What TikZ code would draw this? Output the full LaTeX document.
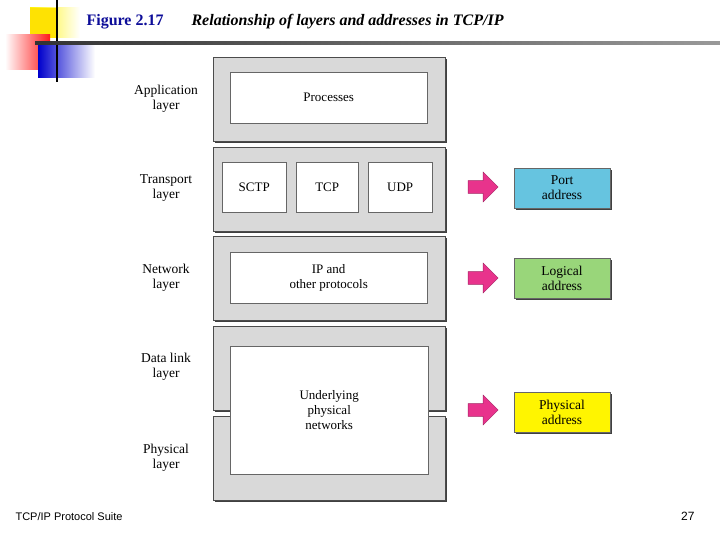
\documentclass[tikz,border=0pt]{standalone}
\usepackage{fontspec}
\setmainfont{Liberation Serif}
\newfontfamily\sansf{Liberation Sans}
\usetikzlibrary{shapes.arrows}
\definecolor{bandgray}{rgb}{0.85,0.85,0.85}
\definecolor{portcol}{rgb}{0.40,0.77,0.88}
\definecolor{logcol}{rgb}{0.60,0.84,0.48}
\definecolor{physcol}{rgb}{1.0,0.96,0.0}
\definecolor{pinkcol}{rgb}{0.91,0.20,0.55}
\definecolor{titleblue}{rgb}{0.05,0.05,0.60}
\begin{document}
\begin{tikzpicture}[x=1pt,y=-1pt,
  band/.style={draw=black!70,fill=bandgray,minimum width=232pt,minimum height=84pt,anchor=north west,inner sep=0pt,
    preaction={fill=black!75,transform canvas={shift={(2pt,-2pt)}}}},
  wbox/.style={draw=black!60,fill=white,inner sep=0pt,anchor=north west,align=center,font=\fontsize{13}{15}\selectfont},
  lbl/.style={align=center,font=\fontsize{13.5}{15}\selectfont},
  addr/.style={draw=black!60,inner sep=0pt,minimum width=96pt,minimum height=40pt,align=center,font=\fontsize{13.5}{15}\selectfont,
    preaction={fill=black!75,transform canvas={shift={(2pt,-2pt)}}}},
  parrow/.style={single arrow,fill=pinkcol,draw=pinkcol!70!black,minimum height=30pt,minimum width=30pt,single arrow head extend=3pt,inner sep=2pt}]
\useasboundingbox (0,0) rectangle (720,540);
\fill[white] (0,0) rectangle (720,540);
% logo
\shade[left color=yellow!90!orange,right color=white] (30,8) rectangle (80,38);
\fill[yellow!85!orange] (30,8) rectangle (56,38);
\shade[left color=white,right color=red!90] (5,35) rectangle (50,70);
\shade[left color=blue!80!black,right color=white] (38,45) rectangle (95,78);
\draw[line width=1.5pt] (57,0) -- (57,82);
\shade[left color=black!80,right color=black!40] (35,42) rectangle (720,45);
% title
\node[anchor=west,font=\fontsize{16}{18}\selectfont\bfseries,text=titleblue] (fig) at (83,22) {Figure 2.17};
\node[anchor=west,font=\fontsize{16}{18}\selectfont\bfseries\itshape] (ttl) at (188,22) {Relationship of layers and addresses in TCP/IP};
% bands
\node[band] (app) at (213,57) {};
\node[band] (tra) at (213,147) {};
\node[band] (net) at (213,236) {};
\node[band] (dl) at (213,326) {};
\node[band] (phy) at (213,416) {};
% inner boxes
\node[wbox,minimum width=197pt,minimum height=51pt] (proc) at (230,72) {Processes};
\node[wbox,minimum width=64pt,minimum height=50pt] (sctp) at (222,162) {SCTP};
\node[wbox,minimum width=62pt,minimum height=50pt] (tcp) at (296,162) {TCP};
\node[wbox,minimum width=64pt,minimum height=50pt] (udp) at (368,162) {UDP};
\node[wbox,minimum width=197pt,minimum height=51pt] (ip) at (230,252) {IP and\\other protocols};
\node[wbox,minimum width=198pt,minimum height=128pt] (und) at (230,346) {Underlying\\physical\\networks};
% layer labels
\node[lbl] (lapp) at (166,99) {Application\\layer};
\node[lbl] (ltra) at (166,188) {Transport\\layer};
\node[lbl] (lnet) at (166,278) {Network\\layer};
\node[lbl] (ldl) at (166,367) {Data link\\layer};
\node[lbl] (lphy) at (166,458) {Physical\\layer};
% arrows and addresses
\node[parrow] (a1) at (480,187) {};
\node[parrow] (a2) at (480,278) {};
\node[parrow] (a3) at (480,410) {};
\node[addr,fill=portcol] (port) at (562,188) {Port\\address};
\node[addr,fill=logcol] (log) at (562,278) {Logical\\address};
\node[addr,fill=physcol] (phad) at (562,412) {Physical\\address};
% footer
\node[anchor=west,font=\sansf\fontsize{11}{12}\selectfont] (foot) at (12,517) {TCP/IP Protocol Suite};
\node[anchor=east,font=\sansf\fontsize{12}{13}\selectfont] (pg) at (698,516) {27};
\end{tikzpicture}
\end{document}
